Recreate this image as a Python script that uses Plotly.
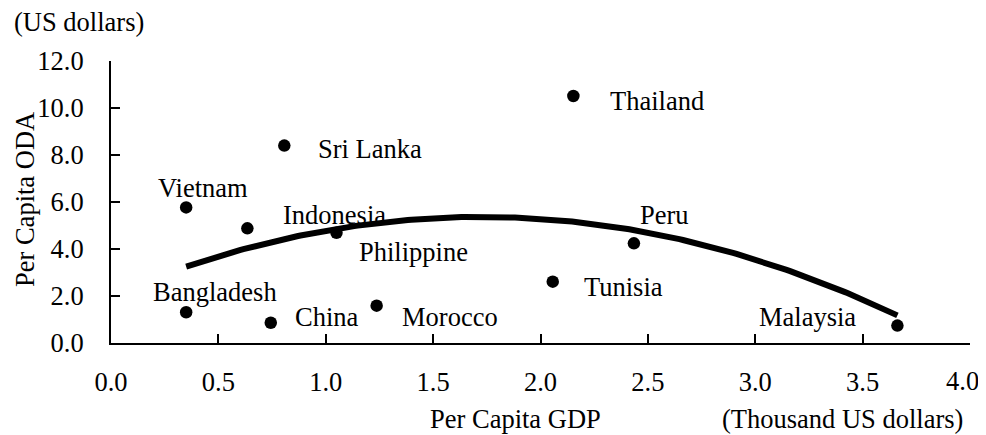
import numpy as np
import plotly.graph_objects as go

countries = ["Vietnam", "Indonesia", "Philippine", "Bangladesh", "China", "Morocco",
             "Sri Lanka", "Thailand", "Peru", "Tunisia", "Malaysia"]
gdp = [0.35, 0.635, 1.05, 0.35, 0.744, 1.237, 0.807, 2.153, 2.435, 2.057, 3.662]
oda = [5.77, 4.88, 4.69, 1.31, 0.86, 1.59, 8.40, 10.51, 4.24, 2.61, 0.74]

x_ticks = [0.0, 0.5, 1.0, 1.5, 2.0, 2.5, 3.0, 3.5, 4.0]
y_ticks = [0.0, 2.0, 4.0, 6.0, 8.0, 10.0, 12.0]

# quadratic trend fitted to the data
coef = np.polyfit(gdp, oda, 2)
tx = np.linspace(min(gdp), max(gdp), 200)
ty = np.polyval(coef, tx)

FONT = "Liberation Serif"
FS = 26.5

fig = go.Figure()
fig.add_trace(go.Scatter(x=tx, y=ty, mode="lines",
                         line=dict(color="black", width=6), hoverinfo="skip"))
fig.add_trace(go.Scatter(x=gdp, y=oda, mode="markers",
                         marker=dict(color="black", size=12.5, line=dict(width=0)),
                         text=countries))

# label placement: (xanchor, xshift, yshift)
label_pos = {
    "Vietnam": ("center", 17, 19),
    "Sri Lanka": ("left", 32, -3),
    "Thailand": ("left", 35, -5),
    "Peru": ("left", 4, 28),
    "Tunisia": ("left", 29, -5),
    "Malaysia": ("right", -39, 9),
    "Indonesia": ("left", 34, 13),
    "Philippine": ("left", 21, -19),
    "Bangladesh": ("left", -35, 20),
    "China": ("left", 22, 6),
    "Morocco": ("left", 23, -11),
}
annotations = []
for c, xv, yv in zip(countries, gdp, oda):
    xa, xs, ys = label_pos[c]
    annotations.append(dict(x=xv, y=yv, xref="x", yref="y", text=c, showarrow=False,
                            xanchor=xa, yanchor="middle", xshift=xs, yshift=ys,
                            font=dict(family=FONT, size=FS, color="black")))

# page-pixel positions of the plot area (the page body adds an 8px offset)
OFF = 8
W, H = 986 - OFF, 435 - OFF
L, R, T, B = 111, 970, 61, 343
def px(x):
    return (x - L) / (R - L)
def py(y):
    return (B - y) / (B - T)

# the last x tick label sits at the right edge of the page; draw it so it stays inside
x_ticktext = [f"{v:.1f}" for v in x_ticks]
last_label = x_ticktext[-1]
x_ticktext[-1] = ""

annotations += [
    dict(x=px(12), y=py(22), xref="paper", yref="paper", text="(US dollars)",
         showarrow=False, xanchor="left", yanchor="middle",
         font=dict(family=FONT, size=FS, color="black")),
    dict(x=px(965), y=py(419), xref="paper", yref="paper", text="(Thousand US dollars)",
         showarrow=False, xanchor="right", yanchor="middle",
         font=dict(family=FONT, size=FS, color="black")),
    dict(x=px(515), y=py(419), xref="paper", yref="paper", text="Per Capita GDP",
         showarrow=False, xanchor="center", yanchor="middle",
         font=dict(family=FONT, size=FS, color="black")),
    dict(x=px(25), y=py(200), xref="paper", yref="paper", text="Per Capita ODA",
         showarrow=False, xanchor="center", yanchor="middle", textangle=-90,
         font=dict(family=FONT, size=FS, color="black")),
    dict(x=px(981), y=py(381), xref="paper", yref="paper", text=last_label,
         showarrow=False, xanchor="right", yanchor="middle",
         font=dict(family=FONT, size=FS, color="black")),
]

fig.update_layout(
    width=W, height=H,
    margin=dict(l=L - OFF, r=W - (R - OFF), t=T - OFF, b=H - (B - OFF), pad=0),
    paper_bgcolor="white", plot_bgcolor="white",
    showlegend=False,
    annotations=annotations,
    font=dict(family=FONT, size=FS, color="black"),
)
fig.update_xaxes(range=[0, 4], tickvals=x_ticks, ticktext=x_ticktext,
                 showgrid=False, zeroline=False, showline=True, linecolor="black",
                 linewidth=2, ticks="inside", ticklen=9, tickwidth=2, tickcolor="black",
                 ticklabelstandoff=14,
                 tickfont=dict(family=FONT, size=FS, color="black"))
fig.update_yaxes(range=[0, 12], tickvals=y_ticks, ticktext=[f"{v:.1f}" for v in y_ticks],
                 showgrid=False, zeroline=False, showline=True, linecolor="black",
                 linewidth=2, ticks="inside", ticklen=9, tickwidth=2, tickcolor="black",
                 ticklabelstandoff=20,
                 tickfont=dict(family=FONT, size=FS, color="black"))

fig.write_html("out.html")
